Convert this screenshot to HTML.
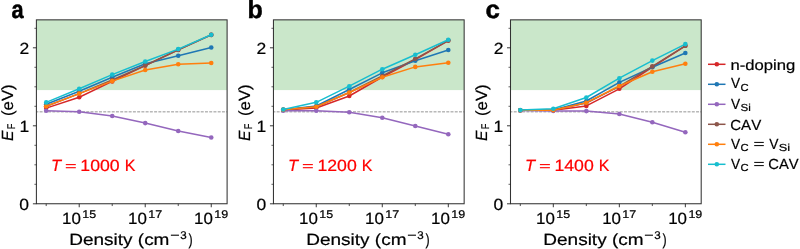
<!DOCTYPE html><html><head><meta charset="utf-8"><style>html,body{margin:0;padding:0;background:#fff;}svg{display:block;will-change:transform;}text{font-family:"Liberation Sans",sans-serif;font-kerning:none;text-rendering:geometricPrecision;}</style></head><body>
<svg width="800" height="249" viewBox="0 0 800 249">
<rect width="800" height="249" fill="#fff"/>
<g transform="translate(0.00,0)">
<rect x="36.4" y="19.85" width="190.70" height="70.25" fill="#cae7ca"/>
<line x1="36.4" y1="111.85" x2="227.1" y2="111.85" stroke="#7a7a7a" stroke-width="0.8" stroke-dasharray="2.96 1.28" stroke-dashoffset="1.0"/>
<polyline points="46.20,108.10 79.21,97.20 112.22,81.40 145.23,65.60 178.24,49.90 211.25,34.90" fill="none" stroke="#d62728" stroke-width="1.5" stroke-linejoin="round"/>
<circle cx="46.20" cy="108.10" r="2.3" fill="#d62728"/>
<circle cx="79.21" cy="97.20" r="2.3" fill="#d62728"/>
<circle cx="112.22" cy="81.40" r="2.3" fill="#d62728"/>
<circle cx="145.23" cy="65.60" r="2.3" fill="#d62728"/>
<circle cx="178.24" cy="49.90" r="2.3" fill="#d62728"/>
<circle cx="211.25" cy="34.90" r="2.3" fill="#d62728"/>
<polyline points="46.20,104.30 79.21,91.30 112.22,77.30 145.23,63.70 178.24,55.70 211.25,47.50" fill="none" stroke="#1f77b4" stroke-width="1.5" stroke-linejoin="round"/>
<circle cx="46.20" cy="104.30" r="2.3" fill="#1f77b4"/>
<circle cx="79.21" cy="91.30" r="2.3" fill="#1f77b4"/>
<circle cx="112.22" cy="77.30" r="2.3" fill="#1f77b4"/>
<circle cx="145.23" cy="63.70" r="2.3" fill="#1f77b4"/>
<circle cx="178.24" cy="55.70" r="2.3" fill="#1f77b4"/>
<circle cx="211.25" cy="47.50" r="2.3" fill="#1f77b4"/>
<polyline points="46.20,110.80 79.21,111.70 112.22,116.00 145.23,123.10 178.24,131.00 211.25,137.50" fill="none" stroke="#9467bd" stroke-width="1.5" stroke-linejoin="round"/>
<circle cx="46.20" cy="110.80" r="2.3" fill="#9467bd"/>
<circle cx="79.21" cy="111.70" r="2.3" fill="#9467bd"/>
<circle cx="112.22" cy="116.00" r="2.3" fill="#9467bd"/>
<circle cx="145.23" cy="123.10" r="2.3" fill="#9467bd"/>
<circle cx="178.24" cy="131.00" r="2.3" fill="#9467bd"/>
<circle cx="211.25" cy="137.50" r="2.3" fill="#9467bd"/>
<polyline points="46.20,106.20 79.21,93.60 112.22,80.00 145.23,65.50 178.24,49.80 211.25,34.90" fill="none" stroke="#8c564b" stroke-width="1.5" stroke-linejoin="round"/>
<circle cx="46.20" cy="106.20" r="2.3" fill="#8c564b"/>
<circle cx="79.21" cy="93.60" r="2.3" fill="#8c564b"/>
<circle cx="112.22" cy="80.00" r="2.3" fill="#8c564b"/>
<circle cx="145.23" cy="65.50" r="2.3" fill="#8c564b"/>
<circle cx="178.24" cy="49.80" r="2.3" fill="#8c564b"/>
<circle cx="211.25" cy="34.90" r="2.3" fill="#8c564b"/>
<polyline points="46.20,106.20 79.21,93.60 112.22,81.10 145.23,70.00 178.24,64.20 211.25,63.05" fill="none" stroke="#ff7f0e" stroke-width="1.5" stroke-linejoin="round"/>
<circle cx="46.20" cy="106.20" r="2.3" fill="#ff7f0e"/>
<circle cx="79.21" cy="93.60" r="2.3" fill="#ff7f0e"/>
<circle cx="112.22" cy="81.10" r="2.3" fill="#ff7f0e"/>
<circle cx="145.23" cy="70.00" r="2.3" fill="#ff7f0e"/>
<circle cx="178.24" cy="64.20" r="2.3" fill="#ff7f0e"/>
<circle cx="211.25" cy="63.05" r="2.3" fill="#ff7f0e"/>
<polyline points="46.20,102.40 79.21,88.80 112.22,74.60 145.23,61.50 178.24,49.10 211.25,34.70" fill="none" stroke="#17becf" stroke-width="1.5" stroke-linejoin="round"/>
<circle cx="46.20" cy="102.40" r="2.3" fill="#17becf"/>
<circle cx="79.21" cy="88.80" r="2.3" fill="#17becf"/>
<circle cx="112.22" cy="74.60" r="2.3" fill="#17becf"/>
<circle cx="145.23" cy="61.50" r="2.3" fill="#17becf"/>
<circle cx="178.24" cy="49.10" r="2.3" fill="#17becf"/>
<circle cx="211.25" cy="34.70" r="2.3" fill="#17becf"/>
<rect x="36.4" y="19.85" width="190.70" height="183.90" fill="none" stroke="#333" stroke-width="1.05"/>
<line x1="32.9" y1="203.80" x2="36.4" y2="203.80" stroke="#222" stroke-width="0.9"/>
<line x1="32.9" y1="125.80" x2="36.4" y2="125.80" stroke="#222" stroke-width="0.9"/>
<line x1="32.9" y1="47.80" x2="36.4" y2="47.80" stroke="#222" stroke-width="0.9"/>
<line x1="34.4" y1="184.30" x2="36.4" y2="184.30" stroke="#222" stroke-width="0.7"/>
<line x1="34.4" y1="164.80" x2="36.4" y2="164.80" stroke="#222" stroke-width="0.7"/>
<line x1="34.4" y1="145.30" x2="36.4" y2="145.30" stroke="#222" stroke-width="0.7"/>
<line x1="34.4" y1="106.30" x2="36.4" y2="106.30" stroke="#222" stroke-width="0.7"/>
<line x1="34.4" y1="86.80" x2="36.4" y2="86.80" stroke="#222" stroke-width="0.7"/>
<line x1="34.4" y1="67.30" x2="36.4" y2="67.30" stroke="#222" stroke-width="0.7"/>
<line x1="34.4" y1="28.30" x2="36.4" y2="28.30" stroke="#222" stroke-width="0.7"/>
<line x1="79.21" y1="203.75" x2="79.21" y2="207.25" stroke="#222" stroke-width="0.9"/>
<line x1="145.23" y1="203.75" x2="145.23" y2="207.25" stroke="#222" stroke-width="0.9"/>
<line x1="211.25" y1="203.75" x2="211.25" y2="207.25" stroke="#222" stroke-width="0.9"/>
<line x1="46.20" y1="203.75" x2="46.20" y2="206.05" stroke="#222" stroke-width="0.8"/>
<line x1="112.22" y1="203.75" x2="112.22" y2="206.05" stroke="#222" stroke-width="0.8"/>
<line x1="178.24" y1="203.75" x2="178.24" y2="206.05" stroke="#222" stroke-width="0.8"/>
<text x="19.35" y="210.05" font-size="16.20" fill="#000" stroke="#000" stroke-width="0.2" textLength="9.73" lengthAdjust="spacingAndGlyphs">0</text>
<text x="19.52" y="132.05" font-size="16.20" fill="#000" stroke="#000" stroke-width="0.2" textLength="9.73" lengthAdjust="spacingAndGlyphs">1</text>
<text x="19.55" y="54.05" font-size="16.20" fill="#000" stroke="#000" stroke-width="0.2" textLength="9.73" lengthAdjust="spacingAndGlyphs">2</text>
<text x="62.02" y="224.00" font-size="16.20" fill="#000" stroke="#000" stroke-width="0.2" textLength="18.80" lengthAdjust="spacingAndGlyphs">10</text>
<text x="82.26" y="218.10" font-size="11.20" fill="#000" stroke="#000" stroke-width="0.22" textLength="13.87" lengthAdjust="spacingAndGlyphs">15</text>
<text x="128.04" y="224.00" font-size="16.20" fill="#000" stroke="#000" stroke-width="0.2" textLength="18.80" lengthAdjust="spacingAndGlyphs">10</text>
<text x="148.27" y="218.10" font-size="11.20" fill="#000" stroke="#000" stroke-width="0.22" textLength="13.99" lengthAdjust="spacingAndGlyphs">17</text>
<text x="194.06" y="224.00" font-size="16.20" fill="#000" stroke="#000" stroke-width="0.2" textLength="18.80" lengthAdjust="spacingAndGlyphs">10</text>
<text x="214.29" y="218.10" font-size="11.20" fill="#000" stroke="#000" stroke-width="0.22" textLength="13.95" lengthAdjust="spacingAndGlyphs">19</text>
<text x="69.24" y="244.80" font-size="16.20" fill="#000" stroke="#000" stroke-width="0.2" textLength="100.21" lengthAdjust="spacingAndGlyphs">Density (cm</text>
<text x="170.21" y="239.20" font-size="11.20" fill="#000" stroke="#000" stroke-width="0.22" textLength="9.38" lengthAdjust="spacingAndGlyphs">−</text>
<text x="180.26" y="239.20" font-size="11.20" fill="#000" stroke="#000" stroke-width="0.22" textLength="6.45" lengthAdjust="spacingAndGlyphs">3</text>
<text x="188.43" y="244.80" font-size="16.20" fill="#000" stroke="#000" stroke-width="0.2" textLength="4.14" lengthAdjust="spacingAndGlyphs">)</text>
<g transform="translate(12.7,140.6) rotate(-90)">
<text x="-0.48" y="0.00" font-size="16.20" font-style="italic" fill="#000" stroke="#000" stroke-width="0.2" textLength="10.44" lengthAdjust="spacingAndGlyphs">E</text>
<text x="11.34" y="2.30" font-size="11.20" fill="#000" stroke="#000" stroke-width="0.22" textLength="5.62" lengthAdjust="spacingAndGlyphs">F</text>
<text x="24.66" y="0.00" font-size="16.20" fill="#000" stroke="#000" stroke-width="0.2" textLength="31.57" lengthAdjust="spacingAndGlyphs">(eV)</text>
</g>
<text x="50.91" y="170.70" font-size="16.20" font-style="italic" fill="#f00" stroke="#f00" stroke-width="0.2" textLength="10.11" lengthAdjust="spacingAndGlyphs">T</text>
<rect x="65.8" y="164.05" width="10.0" height="1.1" fill="#f00"/>
<rect x="65.8" y="167.15" width="10.0" height="1.1" fill="#f00"/>
<text x="80.35" y="170.70" font-size="16.20" fill="#f00" stroke="#f00" stroke-width="0.2" textLength="39.34" lengthAdjust="spacingAndGlyphs">1000</text>
<text x="124.78" y="170.70" font-size="16.20" fill="#f00" stroke="#f00" stroke-width="0.2" textLength="10.70" lengthAdjust="spacingAndGlyphs">K</text>
</g>
<g transform="translate(237.05,0)">
<rect x="36.4" y="19.85" width="190.70" height="70.25" fill="#cae7ca"/>
<line x1="36.4" y1="111.85" x2="227.1" y2="111.85" stroke="#7a7a7a" stroke-width="0.8" stroke-dasharray="2.96 1.28" stroke-dashoffset="1.0"/>
<polyline points="46.20,109.90 79.21,108.00 112.22,96.00 145.23,77.00 178.24,59.50 211.25,40.60" fill="none" stroke="#d62728" stroke-width="1.5" stroke-linejoin="round"/>
<circle cx="46.20" cy="109.90" r="2.3" fill="#d62728"/>
<circle cx="79.21" cy="108.00" r="2.3" fill="#d62728"/>
<circle cx="112.22" cy="96.00" r="2.3" fill="#d62728"/>
<circle cx="145.23" cy="77.00" r="2.3" fill="#d62728"/>
<circle cx="178.24" cy="59.50" r="2.3" fill="#d62728"/>
<circle cx="211.25" cy="40.60" r="2.3" fill="#d62728"/>
<polyline points="46.20,109.70 79.21,106.00 112.22,89.50 145.23,72.80 178.24,60.70 211.25,50.00" fill="none" stroke="#1f77b4" stroke-width="1.5" stroke-linejoin="round"/>
<circle cx="46.20" cy="109.70" r="2.3" fill="#1f77b4"/>
<circle cx="79.21" cy="106.00" r="2.3" fill="#1f77b4"/>
<circle cx="112.22" cy="89.50" r="2.3" fill="#1f77b4"/>
<circle cx="145.23" cy="72.80" r="2.3" fill="#1f77b4"/>
<circle cx="178.24" cy="60.70" r="2.3" fill="#1f77b4"/>
<circle cx="211.25" cy="50.00" r="2.3" fill="#1f77b4"/>
<polyline points="46.20,110.70 79.21,110.80 112.22,112.30 145.23,117.70 178.24,126.00 211.25,134.30" fill="none" stroke="#9467bd" stroke-width="1.5" stroke-linejoin="round"/>
<circle cx="46.20" cy="110.70" r="2.3" fill="#9467bd"/>
<circle cx="79.21" cy="110.80" r="2.3" fill="#9467bd"/>
<circle cx="112.22" cy="112.30" r="2.3" fill="#9467bd"/>
<circle cx="145.23" cy="117.70" r="2.3" fill="#9467bd"/>
<circle cx="178.24" cy="126.00" r="2.3" fill="#9467bd"/>
<circle cx="211.25" cy="134.30" r="2.3" fill="#9467bd"/>
<polyline points="46.20,109.70 79.21,106.70 112.22,92.50 145.23,76.00 178.24,58.80 211.25,40.60" fill="none" stroke="#8c564b" stroke-width="1.5" stroke-linejoin="round"/>
<circle cx="46.20" cy="109.70" r="2.3" fill="#8c564b"/>
<circle cx="79.21" cy="106.70" r="2.3" fill="#8c564b"/>
<circle cx="112.22" cy="92.50" r="2.3" fill="#8c564b"/>
<circle cx="145.23" cy="76.00" r="2.3" fill="#8c564b"/>
<circle cx="178.24" cy="58.80" r="2.3" fill="#8c564b"/>
<circle cx="211.25" cy="40.60" r="2.3" fill="#8c564b"/>
<polyline points="46.20,109.70 79.21,106.70 112.22,92.50 145.23,77.20 178.24,66.90 211.25,62.70" fill="none" stroke="#ff7f0e" stroke-width="1.5" stroke-linejoin="round"/>
<circle cx="46.20" cy="109.70" r="2.3" fill="#ff7f0e"/>
<circle cx="79.21" cy="106.70" r="2.3" fill="#ff7f0e"/>
<circle cx="112.22" cy="92.50" r="2.3" fill="#ff7f0e"/>
<circle cx="145.23" cy="77.20" r="2.3" fill="#ff7f0e"/>
<circle cx="178.24" cy="66.90" r="2.3" fill="#ff7f0e"/>
<circle cx="211.25" cy="62.70" r="2.3" fill="#ff7f0e"/>
<polyline points="46.20,109.50 79.21,102.30 112.22,86.20 145.23,69.20 178.24,54.80 211.25,39.80" fill="none" stroke="#17becf" stroke-width="1.5" stroke-linejoin="round"/>
<circle cx="46.20" cy="109.50" r="2.3" fill="#17becf"/>
<circle cx="79.21" cy="102.30" r="2.3" fill="#17becf"/>
<circle cx="112.22" cy="86.20" r="2.3" fill="#17becf"/>
<circle cx="145.23" cy="69.20" r="2.3" fill="#17becf"/>
<circle cx="178.24" cy="54.80" r="2.3" fill="#17becf"/>
<circle cx="211.25" cy="39.80" r="2.3" fill="#17becf"/>
<rect x="36.4" y="19.85" width="190.70" height="183.90" fill="none" stroke="#333" stroke-width="1.05"/>
<line x1="32.9" y1="203.80" x2="36.4" y2="203.80" stroke="#222" stroke-width="0.9"/>
<line x1="32.9" y1="125.80" x2="36.4" y2="125.80" stroke="#222" stroke-width="0.9"/>
<line x1="32.9" y1="47.80" x2="36.4" y2="47.80" stroke="#222" stroke-width="0.9"/>
<line x1="34.4" y1="184.30" x2="36.4" y2="184.30" stroke="#222" stroke-width="0.7"/>
<line x1="34.4" y1="164.80" x2="36.4" y2="164.80" stroke="#222" stroke-width="0.7"/>
<line x1="34.4" y1="145.30" x2="36.4" y2="145.30" stroke="#222" stroke-width="0.7"/>
<line x1="34.4" y1="106.30" x2="36.4" y2="106.30" stroke="#222" stroke-width="0.7"/>
<line x1="34.4" y1="86.80" x2="36.4" y2="86.80" stroke="#222" stroke-width="0.7"/>
<line x1="34.4" y1="67.30" x2="36.4" y2="67.30" stroke="#222" stroke-width="0.7"/>
<line x1="34.4" y1="28.30" x2="36.4" y2="28.30" stroke="#222" stroke-width="0.7"/>
<line x1="79.21" y1="203.75" x2="79.21" y2="207.25" stroke="#222" stroke-width="0.9"/>
<line x1="145.23" y1="203.75" x2="145.23" y2="207.25" stroke="#222" stroke-width="0.9"/>
<line x1="211.25" y1="203.75" x2="211.25" y2="207.25" stroke="#222" stroke-width="0.9"/>
<line x1="46.20" y1="203.75" x2="46.20" y2="206.05" stroke="#222" stroke-width="0.8"/>
<line x1="112.22" y1="203.75" x2="112.22" y2="206.05" stroke="#222" stroke-width="0.8"/>
<line x1="178.24" y1="203.75" x2="178.24" y2="206.05" stroke="#222" stroke-width="0.8"/>
<text x="19.35" y="210.05" font-size="16.20" fill="#000" stroke="#000" stroke-width="0.2" textLength="9.73" lengthAdjust="spacingAndGlyphs">0</text>
<text x="19.52" y="132.05" font-size="16.20" fill="#000" stroke="#000" stroke-width="0.2" textLength="9.73" lengthAdjust="spacingAndGlyphs">1</text>
<text x="19.55" y="54.05" font-size="16.20" fill="#000" stroke="#000" stroke-width="0.2" textLength="9.73" lengthAdjust="spacingAndGlyphs">2</text>
<text x="62.02" y="224.00" font-size="16.20" fill="#000" stroke="#000" stroke-width="0.2" textLength="18.80" lengthAdjust="spacingAndGlyphs">10</text>
<text x="82.26" y="218.10" font-size="11.20" fill="#000" stroke="#000" stroke-width="0.22" textLength="13.87" lengthAdjust="spacingAndGlyphs">15</text>
<text x="128.04" y="224.00" font-size="16.20" fill="#000" stroke="#000" stroke-width="0.2" textLength="18.80" lengthAdjust="spacingAndGlyphs">10</text>
<text x="148.27" y="218.10" font-size="11.20" fill="#000" stroke="#000" stroke-width="0.22" textLength="13.99" lengthAdjust="spacingAndGlyphs">17</text>
<text x="194.06" y="224.00" font-size="16.20" fill="#000" stroke="#000" stroke-width="0.2" textLength="18.80" lengthAdjust="spacingAndGlyphs">10</text>
<text x="214.29" y="218.10" font-size="11.20" fill="#000" stroke="#000" stroke-width="0.22" textLength="13.95" lengthAdjust="spacingAndGlyphs">19</text>
<text x="69.24" y="244.80" font-size="16.20" fill="#000" stroke="#000" stroke-width="0.2" textLength="100.21" lengthAdjust="spacingAndGlyphs">Density (cm</text>
<text x="170.21" y="239.20" font-size="11.20" fill="#000" stroke="#000" stroke-width="0.22" textLength="9.38" lengthAdjust="spacingAndGlyphs">−</text>
<text x="180.26" y="239.20" font-size="11.20" fill="#000" stroke="#000" stroke-width="0.22" textLength="6.45" lengthAdjust="spacingAndGlyphs">3</text>
<text x="188.43" y="244.80" font-size="16.20" fill="#000" stroke="#000" stroke-width="0.2" textLength="4.14" lengthAdjust="spacingAndGlyphs">)</text>
<g transform="translate(12.7,140.6) rotate(-90)">
<text x="-0.48" y="0.00" font-size="16.20" font-style="italic" fill="#000" stroke="#000" stroke-width="0.2" textLength="10.44" lengthAdjust="spacingAndGlyphs">E</text>
<text x="11.34" y="2.30" font-size="11.20" fill="#000" stroke="#000" stroke-width="0.22" textLength="5.62" lengthAdjust="spacingAndGlyphs">F</text>
<text x="24.66" y="0.00" font-size="16.20" fill="#000" stroke="#000" stroke-width="0.2" textLength="31.57" lengthAdjust="spacingAndGlyphs">(eV)</text>
</g>
<text x="50.91" y="170.70" font-size="16.20" font-style="italic" fill="#f00" stroke="#f00" stroke-width="0.2" textLength="10.11" lengthAdjust="spacingAndGlyphs">T</text>
<rect x="65.8" y="164.05" width="10.0" height="1.1" fill="#f00"/>
<rect x="65.8" y="167.15" width="10.0" height="1.1" fill="#f00"/>
<text x="80.35" y="170.70" font-size="16.20" fill="#f00" stroke="#f00" stroke-width="0.2" textLength="39.34" lengthAdjust="spacingAndGlyphs">1200</text>
<text x="124.78" y="170.70" font-size="16.20" fill="#f00" stroke="#f00" stroke-width="0.2" textLength="10.70" lengthAdjust="spacingAndGlyphs">K</text>
</g>
<g transform="translate(474.10,0)">
<rect x="36.4" y="19.85" width="190.70" height="70.25" fill="#cae7ca"/>
<line x1="36.4" y1="111.85" x2="227.1" y2="111.85" stroke="#7a7a7a" stroke-width="0.8" stroke-dasharray="2.96 1.28" stroke-dashoffset="1.0"/>
<polyline points="46.20,110.30 79.21,110.20 112.22,105.90 145.23,88.80 178.24,67.00 211.25,45.80" fill="none" stroke="#d62728" stroke-width="1.5" stroke-linejoin="round"/>
<circle cx="46.20" cy="110.30" r="2.3" fill="#d62728"/>
<circle cx="79.21" cy="110.20" r="2.3" fill="#d62728"/>
<circle cx="112.22" cy="105.90" r="2.3" fill="#d62728"/>
<circle cx="145.23" cy="88.80" r="2.3" fill="#d62728"/>
<circle cx="178.24" cy="67.00" r="2.3" fill="#d62728"/>
<circle cx="211.25" cy="45.80" r="2.3" fill="#d62728"/>
<polyline points="46.20,110.30 79.21,110.00 112.22,101.00 145.23,82.40 178.24,67.30 211.25,53.00" fill="none" stroke="#1f77b4" stroke-width="1.5" stroke-linejoin="round"/>
<circle cx="46.20" cy="110.30" r="2.3" fill="#1f77b4"/>
<circle cx="79.21" cy="110.00" r="2.3" fill="#1f77b4"/>
<circle cx="112.22" cy="101.00" r="2.3" fill="#1f77b4"/>
<circle cx="145.23" cy="82.40" r="2.3" fill="#1f77b4"/>
<circle cx="178.24" cy="67.30" r="2.3" fill="#1f77b4"/>
<circle cx="211.25" cy="53.00" r="2.3" fill="#1f77b4"/>
<polyline points="46.20,110.50 79.21,111.00 112.22,111.10 145.23,114.00 178.24,122.30 211.25,132.30" fill="none" stroke="#9467bd" stroke-width="1.5" stroke-linejoin="round"/>
<circle cx="46.20" cy="110.50" r="2.3" fill="#9467bd"/>
<circle cx="79.21" cy="111.00" r="2.3" fill="#9467bd"/>
<circle cx="112.22" cy="111.10" r="2.3" fill="#9467bd"/>
<circle cx="145.23" cy="114.00" r="2.3" fill="#9467bd"/>
<circle cx="178.24" cy="122.30" r="2.3" fill="#9467bd"/>
<circle cx="211.25" cy="132.30" r="2.3" fill="#9467bd"/>
<polyline points="46.20,110.30 79.21,110.00 112.22,103.00 145.23,86.30 178.24,66.40 211.25,45.80" fill="none" stroke="#8c564b" stroke-width="1.5" stroke-linejoin="round"/>
<circle cx="46.20" cy="110.30" r="2.3" fill="#8c564b"/>
<circle cx="79.21" cy="110.00" r="2.3" fill="#8c564b"/>
<circle cx="112.22" cy="103.00" r="2.3" fill="#8c564b"/>
<circle cx="145.23" cy="86.30" r="2.3" fill="#8c564b"/>
<circle cx="178.24" cy="66.40" r="2.3" fill="#8c564b"/>
<circle cx="211.25" cy="45.80" r="2.3" fill="#8c564b"/>
<polyline points="46.20,110.30 79.21,110.20 112.22,102.70 145.23,86.00 178.24,71.70 211.25,63.70" fill="none" stroke="#ff7f0e" stroke-width="1.5" stroke-linejoin="round"/>
<circle cx="46.20" cy="110.30" r="2.3" fill="#ff7f0e"/>
<circle cx="79.21" cy="110.20" r="2.3" fill="#ff7f0e"/>
<circle cx="112.22" cy="102.70" r="2.3" fill="#ff7f0e"/>
<circle cx="145.23" cy="86.00" r="2.3" fill="#ff7f0e"/>
<circle cx="178.24" cy="71.70" r="2.3" fill="#ff7f0e"/>
<circle cx="211.25" cy="63.70" r="2.3" fill="#ff7f0e"/>
<polyline points="46.20,110.10 79.21,108.80 112.22,97.50 145.23,78.20 178.24,60.60 211.25,44.10" fill="none" stroke="#17becf" stroke-width="1.5" stroke-linejoin="round"/>
<circle cx="46.20" cy="110.10" r="2.3" fill="#17becf"/>
<circle cx="79.21" cy="108.80" r="2.3" fill="#17becf"/>
<circle cx="112.22" cy="97.50" r="2.3" fill="#17becf"/>
<circle cx="145.23" cy="78.20" r="2.3" fill="#17becf"/>
<circle cx="178.24" cy="60.60" r="2.3" fill="#17becf"/>
<circle cx="211.25" cy="44.10" r="2.3" fill="#17becf"/>
<rect x="36.4" y="19.85" width="190.70" height="183.90" fill="none" stroke="#333" stroke-width="1.05"/>
<line x1="32.9" y1="203.80" x2="36.4" y2="203.80" stroke="#222" stroke-width="0.9"/>
<line x1="32.9" y1="125.80" x2="36.4" y2="125.80" stroke="#222" stroke-width="0.9"/>
<line x1="32.9" y1="47.80" x2="36.4" y2="47.80" stroke="#222" stroke-width="0.9"/>
<line x1="34.4" y1="184.30" x2="36.4" y2="184.30" stroke="#222" stroke-width="0.7"/>
<line x1="34.4" y1="164.80" x2="36.4" y2="164.80" stroke="#222" stroke-width="0.7"/>
<line x1="34.4" y1="145.30" x2="36.4" y2="145.30" stroke="#222" stroke-width="0.7"/>
<line x1="34.4" y1="106.30" x2="36.4" y2="106.30" stroke="#222" stroke-width="0.7"/>
<line x1="34.4" y1="86.80" x2="36.4" y2="86.80" stroke="#222" stroke-width="0.7"/>
<line x1="34.4" y1="67.30" x2="36.4" y2="67.30" stroke="#222" stroke-width="0.7"/>
<line x1="34.4" y1="28.30" x2="36.4" y2="28.30" stroke="#222" stroke-width="0.7"/>
<line x1="79.21" y1="203.75" x2="79.21" y2="207.25" stroke="#222" stroke-width="0.9"/>
<line x1="145.23" y1="203.75" x2="145.23" y2="207.25" stroke="#222" stroke-width="0.9"/>
<line x1="211.25" y1="203.75" x2="211.25" y2="207.25" stroke="#222" stroke-width="0.9"/>
<line x1="46.20" y1="203.75" x2="46.20" y2="206.05" stroke="#222" stroke-width="0.8"/>
<line x1="112.22" y1="203.75" x2="112.22" y2="206.05" stroke="#222" stroke-width="0.8"/>
<line x1="178.24" y1="203.75" x2="178.24" y2="206.05" stroke="#222" stroke-width="0.8"/>
<text x="19.35" y="210.05" font-size="16.20" fill="#000" stroke="#000" stroke-width="0.2" textLength="9.73" lengthAdjust="spacingAndGlyphs">0</text>
<text x="19.52" y="132.05" font-size="16.20" fill="#000" stroke="#000" stroke-width="0.2" textLength="9.73" lengthAdjust="spacingAndGlyphs">1</text>
<text x="19.55" y="54.05" font-size="16.20" fill="#000" stroke="#000" stroke-width="0.2" textLength="9.73" lengthAdjust="spacingAndGlyphs">2</text>
<text x="62.02" y="224.00" font-size="16.20" fill="#000" stroke="#000" stroke-width="0.2" textLength="18.80" lengthAdjust="spacingAndGlyphs">10</text>
<text x="82.26" y="218.10" font-size="11.20" fill="#000" stroke="#000" stroke-width="0.22" textLength="13.87" lengthAdjust="spacingAndGlyphs">15</text>
<text x="128.04" y="224.00" font-size="16.20" fill="#000" stroke="#000" stroke-width="0.2" textLength="18.80" lengthAdjust="spacingAndGlyphs">10</text>
<text x="148.27" y="218.10" font-size="11.20" fill="#000" stroke="#000" stroke-width="0.22" textLength="13.99" lengthAdjust="spacingAndGlyphs">17</text>
<text x="194.06" y="224.00" font-size="16.20" fill="#000" stroke="#000" stroke-width="0.2" textLength="18.80" lengthAdjust="spacingAndGlyphs">10</text>
<text x="214.29" y="218.10" font-size="11.20" fill="#000" stroke="#000" stroke-width="0.22" textLength="13.95" lengthAdjust="spacingAndGlyphs">19</text>
<text x="69.24" y="244.80" font-size="16.20" fill="#000" stroke="#000" stroke-width="0.2" textLength="100.21" lengthAdjust="spacingAndGlyphs">Density (cm</text>
<text x="170.21" y="239.20" font-size="11.20" fill="#000" stroke="#000" stroke-width="0.22" textLength="9.38" lengthAdjust="spacingAndGlyphs">−</text>
<text x="180.26" y="239.20" font-size="11.20" fill="#000" stroke="#000" stroke-width="0.22" textLength="6.45" lengthAdjust="spacingAndGlyphs">3</text>
<text x="188.43" y="244.80" font-size="16.20" fill="#000" stroke="#000" stroke-width="0.2" textLength="4.14" lengthAdjust="spacingAndGlyphs">)</text>
<g transform="translate(12.7,140.6) rotate(-90)">
<text x="-0.48" y="0.00" font-size="16.20" font-style="italic" fill="#000" stroke="#000" stroke-width="0.2" textLength="10.44" lengthAdjust="spacingAndGlyphs">E</text>
<text x="11.34" y="2.30" font-size="11.20" fill="#000" stroke="#000" stroke-width="0.22" textLength="5.62" lengthAdjust="spacingAndGlyphs">F</text>
<text x="24.66" y="0.00" font-size="16.20" fill="#000" stroke="#000" stroke-width="0.2" textLength="31.57" lengthAdjust="spacingAndGlyphs">(eV)</text>
</g>
<text x="50.91" y="170.70" font-size="16.20" font-style="italic" fill="#f00" stroke="#f00" stroke-width="0.2" textLength="10.11" lengthAdjust="spacingAndGlyphs">T</text>
<rect x="65.8" y="164.05" width="10.0" height="1.1" fill="#f00"/>
<rect x="65.8" y="167.15" width="10.0" height="1.1" fill="#f00"/>
<text x="80.35" y="170.70" font-size="16.20" fill="#f00" stroke="#f00" stroke-width="0.2" textLength="39.34" lengthAdjust="spacingAndGlyphs">1400</text>
<text x="124.78" y="170.70" font-size="16.20" fill="#f00" stroke="#f00" stroke-width="0.2" textLength="10.70" lengthAdjust="spacingAndGlyphs">K</text>
</g>
<text x="11.41" y="18.20" font-size="25.20" font-weight="bold" fill="#000" stroke="#000" stroke-width="0.5" textLength="12.10" lengthAdjust="spacingAndGlyphs">a</text>
<text x="247.60" y="18.20" font-size="25.20" font-weight="bold" fill="#000" stroke="#000" stroke-width="0.5" textLength="15.27" lengthAdjust="spacingAndGlyphs">b</text>
<text x="485.44" y="18.20" font-size="25.20" font-weight="bold" fill="#000" stroke="#000" stroke-width="0.5" textLength="14.37" lengthAdjust="spacingAndGlyphs">c</text>
<line x1="708" y1="64.3" x2="725.5" y2="64.3" stroke="#d62728" stroke-width="1.5"/>
<circle cx="716.8" cy="64.3" r="2.3" fill="#d62728"/>
<line x1="708" y1="84.3" x2="725.5" y2="84.3" stroke="#1f77b4" stroke-width="1.5"/>
<circle cx="716.8" cy="84.3" r="2.3" fill="#1f77b4"/>
<line x1="708" y1="104.3" x2="725.5" y2="104.3" stroke="#9467bd" stroke-width="1.5"/>
<circle cx="716.8" cy="104.3" r="2.3" fill="#9467bd"/>
<line x1="708" y1="124.3" x2="725.5" y2="124.3" stroke="#8c564b" stroke-width="1.5"/>
<circle cx="716.8" cy="124.3" r="2.3" fill="#8c564b"/>
<line x1="708" y1="144.3" x2="725.5" y2="144.3" stroke="#ff7f0e" stroke-width="1.5"/>
<circle cx="716.8" cy="144.3" r="2.3" fill="#ff7f0e"/>
<line x1="708" y1="164.3" x2="725.5" y2="164.3" stroke="#17becf" stroke-width="1.5"/>
<circle cx="716.8" cy="164.3" r="2.3" fill="#17becf"/>
<text x="730.49" y="70.00" font-size="14.60" fill="#000" stroke="#000" stroke-width="0.2" textLength="64.78" lengthAdjust="spacingAndGlyphs">n-doping</text>
<text x="730.23" y="129.60" font-size="14.60" fill="#000" stroke="#000" stroke-width="0.2" textLength="31.03" lengthAdjust="spacingAndGlyphs">CAV</text>
<text x="730.94" y="88.40" font-size="14.60" fill="#000" stroke="#000" stroke-width="0.2" textLength="9.12" lengthAdjust="spacingAndGlyphs">V</text>
<text x="740.43" y="90.70" font-size="10.20" fill="#000" stroke="#000" stroke-width="0.22" textLength="8.10" lengthAdjust="spacingAndGlyphs">C</text>
<text x="730.94" y="108.50" font-size="14.60" fill="#000" stroke="#000" stroke-width="0.2" textLength="9.12" lengthAdjust="spacingAndGlyphs">V</text>
<text x="740.47" y="110.80" font-size="10.20" fill="#000" stroke="#000" stroke-width="0.22" textLength="10.31" lengthAdjust="spacingAndGlyphs">Si</text>
<text x="730.94" y="148.50" font-size="14.60" fill="#000" stroke="#000" stroke-width="0.2" textLength="9.12" lengthAdjust="spacingAndGlyphs">V</text>
<text x="740.43" y="150.80" font-size="10.20" fill="#000" stroke="#000" stroke-width="0.22" textLength="8.10" lengthAdjust="spacingAndGlyphs">C</text>
<text x="730.94" y="168.50" font-size="14.60" fill="#000" stroke="#000" stroke-width="0.2" textLength="9.12" lengthAdjust="spacingAndGlyphs">V</text>
<text x="740.43" y="170.80" font-size="10.20" fill="#000" stroke="#000" stroke-width="0.22" textLength="8.10" lengthAdjust="spacingAndGlyphs">C</text>
<rect x="754.2" y="141.90" width="9.6" height="1.0" fill="#000"/>
<rect x="754.2" y="145.10" width="9.6" height="1.0" fill="#000"/>
<rect x="754.2" y="161.90" width="9.6" height="1.0" fill="#000"/>
<rect x="754.2" y="165.10" width="9.6" height="1.0" fill="#000"/>
<text x="769.14" y="148.50" font-size="14.60" fill="#000" stroke="#000" stroke-width="0.2" textLength="9.22" lengthAdjust="spacingAndGlyphs">V</text>
<text x="778.72" y="150.80" font-size="10.20" fill="#000" stroke="#000" stroke-width="0.22" textLength="11.34" lengthAdjust="spacingAndGlyphs">Si</text>
<text x="768.25" y="168.50" font-size="14.60" fill="#000" stroke="#000" stroke-width="0.2" textLength="30.42" lengthAdjust="spacingAndGlyphs">CAV</text>
</svg></body></html>
